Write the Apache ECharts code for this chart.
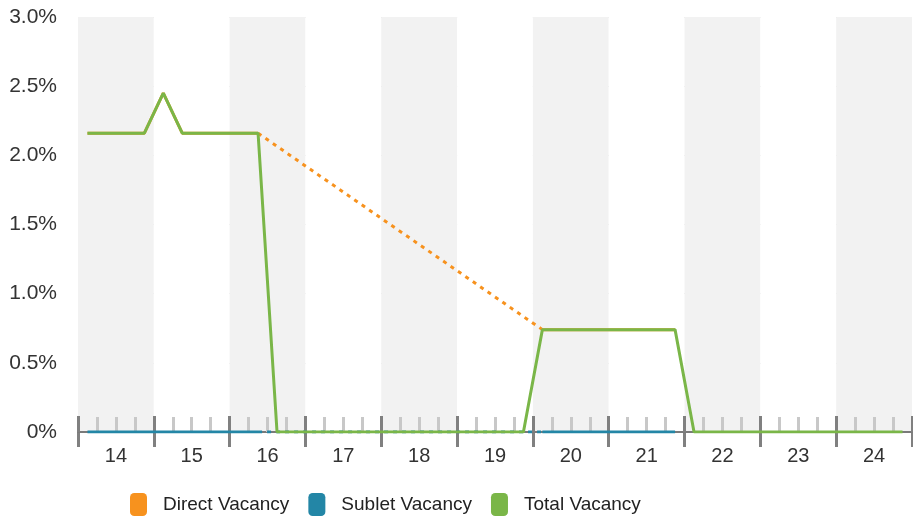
<!DOCTYPE html>
<html>
<head>
<meta charset="utf-8">
<script src="https://cdn.jsdelivr.net/npm/echarts@6/dist/echarts.min.js"></script>
<style>
html, body { margin: 0; padding: 0; background: #fff; }
#container { width: 913px; height: 517px; }
</style>
</head>
<body>
<div id="container"></div>
<script>
var dom = document.getElementById("container");
var myChart = echarts.init(dom);

var years = ['14', '15', '16', '17', '18', '19', '20', '21', '22', '23', '24'];
var seriesNames = ['Direct Vacancy', 'Sublet Vacancy', 'Total Vacancy'];
var yTicks = [0, 0.5, 1.0, 1.5, 2.0, 2.5, 3.0];

// quarterly values, 4 per year
var directVacancy = [
    2.16, 2.16, 2.16, 2.16,
    2.45, 2.16, 2.16, 2.16,
    2.16, 2.16, null, null,
    null, null, null, null,
    null, null, null, null,
    null, null, null, null,
    0.74, 0.74, 0.74, 0.74,
    0.74, 0.74, 0.74, 0.74,
    null, null, null, null,
    null, null, null, null,
    null, null, null, null
];
var subletVacancy = [
    0, 0, 0, 0,
    0, 0, 0, 0,
    0, 0, null, null,
    null, null, null, null,
    null, null, null, null,
    null, null, null, null,
    0, 0, 0, 0,
    0, 0, 0, 0,
    null, null, null, null,
    null, null, null, null,
    null, null, null, null
];
var totalVacancy = [
    2.16, 2.16, 2.16, 2.16,
    2.45, 2.16, 2.16, 2.16,
    2.16, 2.16, 0, 0,
    0, 0, 0, 0,
    0, 0, 0, 0,
    0, 0, 0, 0,
    0.74, 0.74, 0.74, 0.74,
    0.74, 0.74, 0.74, 0.74,
    0, 0, 0, 0,
    0, 0, 0, 0,
    0, 0, 0, 0
];

var quarters = [];
years.forEach(function (y) {
    for (var q = 1; q <= 4; q++) quarters.push(y + ' Q' + q);
});

// keep only the known points on both sides of an inner gap, so a dotted line can bridge it
function gapEnds(arr) {
    var out = arr.map(function () { return null; });
    var last = -1;
    for (var i = 0; i < arr.length; i++) {
        if (arr[i] == null) continue;
        if (last >= 0 && i - last > 1) {
            out[last] = arr[last];
            out[i] = arr[i];
        }
        last = i;
    }
    return out;
}

var colors = ['#f7921e', '#2386a6', '#7ab648'];
var fontFamily = '"Liberation Sans", Arial, sans-serif';

function solid(name, data, color, z) {
    return {
        name: name,
        type: 'line',
        data: data,
        z: z,
        symbol: 'none',
        itemStyle: { color: color },
        lineStyle: { color: color, width: 3 },
        emphasis: { disabled: true }
    };
}
function dotted(name, data, color, z) {
    return {
        name: name,
        type: 'line',
        data: gapEnds(data),
        z: z,
        connectNulls: true,
        symbol: 'none',
        itemStyle: { color: color },
        lineStyle: { color: color, width: 3, type: [4, 5] },
        emphasis: { disabled: true }
    };
}

option = {
    animation: false,
    textStyle: { fontFamily: fontFamily },
    grid: {
        left: 78,
        right: 1,
        top: 17,
        bottom: 85
    },
    legend: {
        data: seriesNames,
        left: 125,
        top: 488,
        icon: 'roundRect',
        itemWidth: 17,
        itemHeight: 23,
        itemGap: 19,
        textStyle: {
            fontFamily: fontFamily,
            fontSize: 19,
            color: '#222',
            padding: [0, 0, 0, 11]
        }
    },
    xAxis: [{
        type: 'category',
        data: quarters,
        position: 'bottom',
        boundaryGap: true,
        z: 2,
        axisLine: { show: true, lineStyle: { color: '#7a7a7a', width: 2 } },
        axisTick: {
            show: true,
            inside: true,
            interval: 0,
            length: 15,
            lineStyle: { color: '#c8c8c8', width: 3 }
        },
        axisLabel: { show: false },
        splitLine: { show: false }
    }, {
        type: 'category',
        data: years,
        position: 'bottom',
        boundaryGap: true,
        z: 1,
        axisLine: { show: false },
        axisTick: {
            show: true,
            interval: 0,
            length: 15,
            lineStyle: { color: '#808080', width: 3 }
        },
        axisLabel: {
            show: true,
            interval: 0,
            fontSize: 20,
            color: '#333',
            margin: 14
        },
        splitLine: { show: false },
        splitArea: {
            show: true,
            interval: 0,
            areaStyle: { color: ['#f2f2f2', '#ffffff'] }
        }
    }, {
        type: 'category',
        data: years,
        position: 'bottom',
        boundaryGap: true,
        z: 3,
        axisLine: { show: false },
        axisTick: {
            show: true,
            inside: true,
            interval: 0,
            length: 16,
            lineStyle: { color: '#808080', width: 3 }
        },
        axisLabel: { show: false },
        splitLine: { show: false }
    }],
    yAxis: {
        type: 'value',
        min: yTicks[0],
        max: yTicks[yTicks.length - 1],
        interval: 0.5,
        z: 1,
        axisLine: { show: false },
        axisTick: { show: false },
        axisLabel: {
            fontSize: 21,
            color: '#333',
            margin: 21,
            formatter: function (v) {
                return v === 0 ? '0%' : v.toFixed(1) + '%';
            }
        },
        splitLine: { lineStyle: { color: '#dadada', width: 1 } }
    },
    series: [
        solid(seriesNames[0], directVacancy, colors[0], 5),
        dotted(seriesNames[0], directVacancy, colors[0], 5),
        solid(seriesNames[1], subletVacancy, colors[1], 4),
        dotted(seriesNames[1], subletVacancy, colors[1], 4),
        solid(seriesNames[2], totalVacancy, colors[2], 6)
    ]
};
if (option && typeof option === "object") {
    myChart.setOption(option, true);
}
</script>
</body>
</html>
